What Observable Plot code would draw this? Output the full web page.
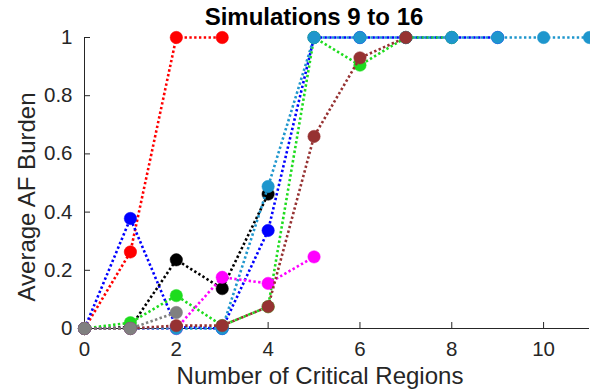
<!DOCTYPE html>
<html>
<head>
<meta charset="utf-8">
<script src="https://cdn.jsdelivr.net/npm/d3@7"></script>
<script src="https://cdn.jsdelivr.net/npm/@observablehq/plot@0.6"></script>
<style>
  html, body { margin: 0; padding: 0; background: #fff; }
  #chart svg { display: block; }
</style>
</head>
<body>
<div id="chart"></div>
<script>
// ---- data ----
const seriesNames = ["Sim 9", "Sim 10", "Sim 11", "Sim 12", "Sim 13", "Sim 14", "Sim 15", "Sim 16"];
const seriesColors = ["#ff0000", "#0000ff", "#000000", "#1edc1e", "#ff00ff", "#1e96cd", "#963232", "#808080"];

const sim9x  = [0, 1, 2, 3];
const sim9y  = [0, 0.263, 1, 1];
const sim10x = [0, 1, 2, 3, 4, 5, 6, 7, 8, 9];
const sim10y = [0, 0.378, 0.005, 0, 0.337, 1, 1, 1, 1, 1];
const sim11x = [0, 1, 2, 3, 4];
const sim11y = [0, 0.004, 0.236, 0.137, 0.462];
const sim12x = [0, 1, 2, 3, 4, 5, 6, 7, 8];
const sim12y = [0, 0.02, 0.113, 0.01, 0.075, 1, 0.905, 1, 1];
const sim13x = [0, 1, 2, 3, 4, 5];
const sim13y = [0, 0, 0, 0.176, 0.155, 0.246];
const sim14x = [0, 1, 2, 3, 4, 5, 6, 7, 8, 9, 10, 11];
const sim14y = [0, 0, 0, 0, 0.488, 1, 1, 1, 1, 1, 1, 1];
const sim15x = [0, 1, 2, 3, 4, 5, 6, 7];
const sim15y = [0, 0, 0.01, 0.01, 0.075, 0.66, 0.93, 1];
const sim16x = [0, 1, 2];
const sim16y = [0, 0, 0.055];

const xTicks = [0, 2, 4, 6, 8, 10];
const yTicks = [0, 0.2, 0.4, 0.6, 0.8, 1];
const yTickLabels = ["0", "0.2", "0.4", "0.6", "0.8", "1"];

const titleText = "Simulations 9 to 16";
const xLabel = "Number of Critical Regions";
const yLabel = "Average AF Burden";

// ---- build ----
const xs = [sim9x, sim10x, sim11x, sim12x, sim13x, sim14x, sim15x, sim16x];
const ys = [sim9y, sim10y, sim11y, sim12y, sim13y, sim14y, sim15y, sim16y];
const series = seriesNames.map((name, i) =>
  xs[i].map((x, j) => ({series: name, x, y: ys[i][j]}))
);

const axisColor = "#262626";
const marks = [];
series.forEach((data, i) => {
  marks.push(Plot.line(data, {
    x: "x", y: "y", stroke: seriesColors[i], strokeWidth: 2.6,
    strokeDasharray: "2.4,2.4", strokeLinecap: "butt"
  }));
  marks.push(Plot.dot(data, {
    x: "x", y: "y", r: 6.2, fill: seriesColors[i], stroke: seriesColors[i], strokeWidth: 0.5
  }));
});

const chart = Plot.plot({
  width: 590,
  height: 391,
  marginLeft: 84,
  marginRight: 1,
  marginTop: 37,
  marginBottom: 63,
  style: {fontFamily: "'Liberation Sans', Arial, sans-serif", fontSize: "20px", color: axisColor, background: "#fff", overflow: "visible"},
  x: {domain: [0, 11], label: null},
  y: {domain: [0, 1], label: null},
  marks: [
    Plot.ruleY([0], {stroke: axisColor, strokeWidth: 1}),
    Plot.ruleX([0], {stroke: axisColor, strokeWidth: 1}),
    Plot.axisX(xTicks, {tickSize: -6, tickPadding: 19, stroke: axisColor, fill: axisColor, fontSize: 20.5, label: null}),
    Plot.axisY(yTicks, {tickSize: -6, tickPadding: 18, stroke: axisColor, fill: axisColor, fontSize: 20.5, label: null,
      tickFormat: (d) => yTickLabels[yTicks.indexOf(d)]}),
    ...marks,
    Plot.text([titleText], {frameAnchor: "top", lineAnchor: "middle", textAnchor: "middle", dx: -23, dy: -20, fontWeight: "bold", fontSize: 24, fill: "#000"}),
    Plot.text([xLabel], {frameAnchor: "bottom", lineAnchor: "middle", textAnchor: "middle", dx: -17, dy: 48, fontSize: 24, fill: axisColor}),
    Plot.text([yLabel], {frameAnchor: "left", lineAnchor: "middle", textAnchor: "middle", dx: -57.5, dy: 14, rotate: -90, fontSize: 24, fill: axisColor})
  ]
});
document.getElementById("chart").appendChild(chart);
</script>
</body>
</html>
